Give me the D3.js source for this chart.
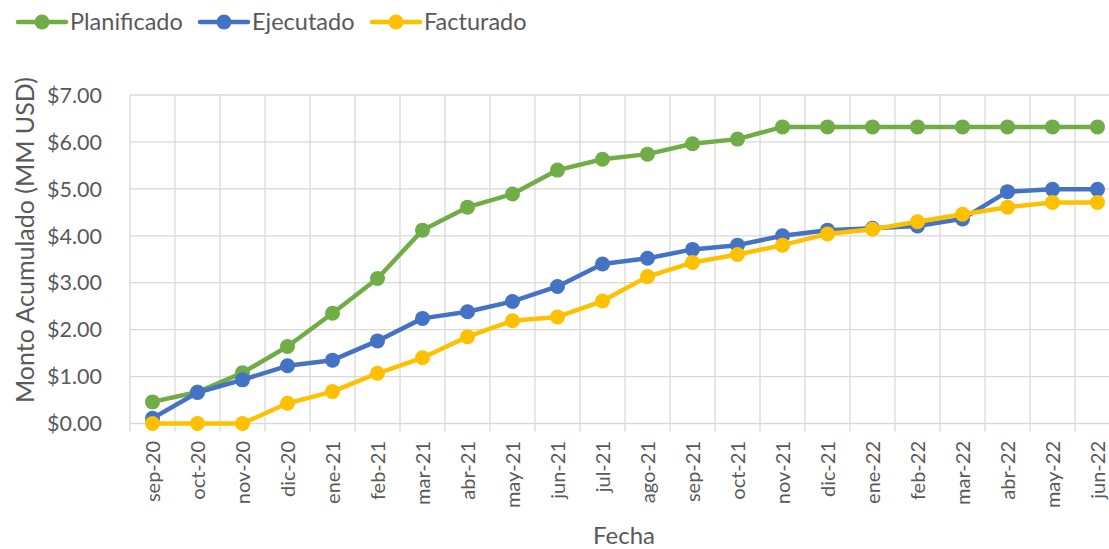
<!DOCTYPE html>
<html><head><meta charset="utf-8">
<script src="https://cdn.jsdelivr.net/npm/d3@7"></script>
<style>body{margin:0;background:#fff;}svg{display:block;font-family:Lato,"Open Sans",sans-serif;}</style>
</head><body><svg id="c" width="1109" height="549"></svg>
<script>
const categories = ["sep-20","oct-20","nov-20","dic-20","ene-21","feb-21","mar-21","abr-21","may-21","jun-21","jul-21","ago-21","sep-21","oct-21","nov-21","dic-21","ene-22","feb-22","mar-22","abr-22","may-22","jun-22"];
const planificado = [0.46,0.67,1.08,1.64,2.35,3.09,4.12,4.61,4.89,5.40,5.63,5.74,5.96,6.06,6.32,6.32,6.32,6.32,6.32,6.32,6.32,6.32];
const ejecutado = [0.11,0.66,0.93,1.23,1.35,1.76,2.24,2.38,2.60,2.92,3.40,3.52,3.71,3.80,4.00,4.12,4.16,4.21,4.36,4.94,4.99,4.99];
const facturado = [0,0,0,0.43,0.68,1.07,1.40,1.85,2.19,2.27,2.61,3.13,3.43,3.60,3.80,4.04,4.14,4.30,4.46,4.61,4.71,4.71];
const yTicks = [0,1,2,3,4,5,6,7];
const seriesNames = ["Planificado","Ejecutado","Facturado"];
const seriesColors = ["#70AD47","#4472C4","#FFC000"];

(function(){
const svg = d3.select("#c");
const pL = 130, pR = 1120, pT = 95, pB = 423.5;
const x = d3.scaleBand().domain(categories).range([pL, pR]);
const y = d3.scaleLinear().domain([0,7]).range([pB, pT]);
const textColor = "#595959", grid = "#d9d9d9";

svg.append("g").selectAll("line").data(yTicks).join("line")
  .attr("x1", pL).attr("x2", 1109)
  .attr("y1", d=>y(d)).attr("y2", d=>y(d))
  .attr("stroke", grid).attr("stroke-width", 1.3);
const bounds = categories.map(c=>x(c)).concat([x(categories[categories.length-1])+x.bandwidth()]);
svg.append("g").selectAll("line").data(bounds).join("line")
  .attr("x1", d=>d).attr("x2", d=>d)
  .attr("y1", pT).attr("y2", pB+8)
  .attr("stroke", grid).attr("stroke-width", 1.3);

svg.append("g").selectAll("text").data(yTicks).join("text")
  .attr("x", 102).attr("y", d=>y(d)).attr("dy","0.36em")
  .attr("text-anchor","end").attr("fill", textColor).attr("font-size", 21.5)
  .text(d=>"$"+d.toFixed(2));

svg.append("g").selectAll("text").data(categories).join("text")
  .attr("transform", d=>`translate(${x(d)+x.bandwidth()/2},441) rotate(-90)`)
  .attr("dy","0.36em").attr("text-anchor","end").attr("fill", textColor).attr("font-size", 20)
  .text(d=>d);

svg.append("text").attr("transform","translate(25,240) rotate(-90)")
  .attr("dy","0.36em").attr("text-anchor","middle").attr("fill",textColor).attr("font-size",25)
  .text("Monto Acumulado (MM USD)");
svg.append("text").attr("x",624).attr("y",535).attr("dy","0.36em")
  .attr("text-anchor","middle").attr("fill",textColor).attr("font-size",24).text("Fecha");

const data = [planificado, ejecutado, facturado];
const line = d3.line().x((d,i)=>x(categories[i])+x.bandwidth()/2).y(d=>y(d));
data.forEach((vals, k) => {
  const g = svg.append("g");
  g.append("path").datum(vals).attr("d", line).attr("fill","none")
    .attr("stroke", seriesColors[k]).attr("stroke-width", 4.5).attr("stroke-linejoin","round");
  g.selectAll("circle").data(vals).join("circle")
    .attr("cx", (d,i)=>x(categories[i])+x.bandwidth()/2).attr("cy", d=>y(d))
    .attr("r", 7.5).attr("fill", seriesColors[k]);
});

const legX = [18, 200, 372];
seriesNames.forEach((n,k)=>{
  const g = svg.append("g").attr("transform",`translate(${legX[k]},22)`);
  g.append("line").attr("x1",0).attr("x2",48).attr("stroke",seriesColors[k]).attr("stroke-width",4.5).attr("stroke-linecap","round");
  g.append("circle").attr("cx",24).attr("r",7.5).attr("fill",seriesColors[k]);
  g.append("text").attr("x",52).attr("dy","0.36em").attr("fill",textColor).attr("font-size",23.5).text(n);
});
})();
</script></body></html>
